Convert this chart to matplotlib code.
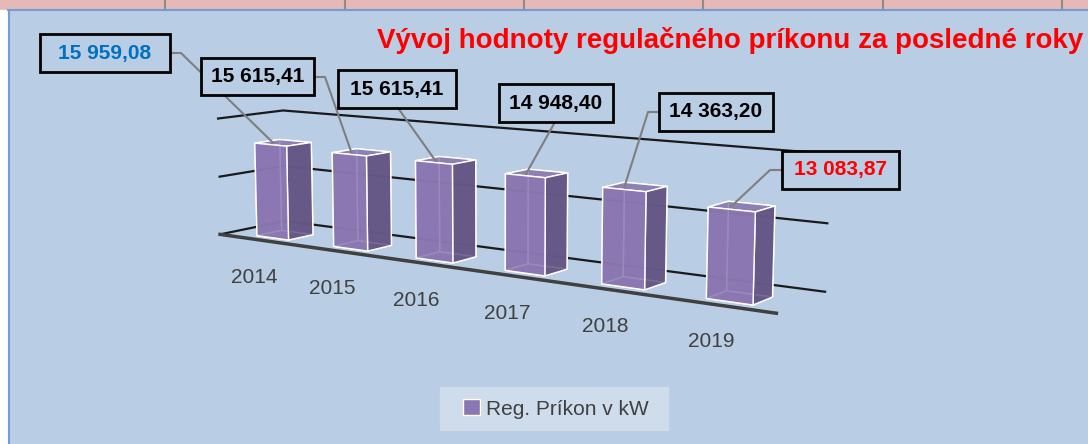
import matplotlib
matplotlib.use("Agg")
import matplotlib.pyplot as plt
import matplotlib.patches as mpatches
from matplotlib.lines import Line2D
from mpl_toolkits.mplot3d import proj3d

years = ["2014", "2015", "2016", "2017", "2018", "2019"]
values = [15959.08, 15615.41, 15615.41, 14948.40, 14363.20, 13083.87]
value_labels = ["15 959,08", "15 615,41", "15 615,41", "14 948,40", "14 363,20", "13 083,87"]
label_colors = ["#0070c0", "black", "black", "black", "black", "#ff0000"]
# label boxes in pixels from top-left: x0, x1, y0, y1
label_boxes = [(40, 170, 34, 72), (201, 314, 58, 95), (338, 456, 70, 108),
               (499, 613, 84, 122), (659, 773, 93, 131), (782, 899, 151, 189)]
# leader line: start point on box, then elbow point (pixels from top-left)
leader_start = [(170, 53), (314, 77), (398, 108), (555, 122), (659, 112), (782, 170)]
leader_elbow = [(181, 53), (325, 77), (398, 108), (555, 122), (648, 112), (770, 170)]

W, H = 1088, 444
bg = "#b9cde5"
plt.rcParams["grid.color"] = "#1a1a1a"
plt.rcParams["grid.linewidth"] = 1.6
font = ["Liberation Sans", "DejaVu Sans"]


def fpx(x, y):
    return x / W, 1 - y / H


fig = plt.figure(figsize=(W / 100, H / 100), dpi=100, facecolor=bg)

# spreadsheet strip + chart border
fig.add_artist(mpatches.Rectangle((0, 1 - 10 / H), 1, 10 / H, transform=fig.transFigure,
                                  color="#e6b8b7", zorder=0))
fig.add_artist(mpatches.Rectangle((0, 0), 8 / W, 1 - 10 / H, transform=fig.transFigure,
                                  color="white", zorder=0))
for cx in [165, 345, 524, 703, 883, 1062]:
    fig.add_artist(Line2D([cx / W] * 2, [1 - 9 / H, 1], transform=fig.transFigure,
                          color="#8c8c8c", lw=1.5))
fig.add_artist(Line2D([8 / W, 1], [1 - 10 / H] * 2, transform=fig.transFigure,
                      color="#6f9fd8", lw=1.5))
fig.add_artist(Line2D([8.5 / W] * 2, [0, 1 - 10 / H], transform=fig.transFigure,
                      color="#6f9fd8", lw=1.5))

side = 665
cx3, cy3 = 487, 207
ax = fig.add_axes([(cx3 - side / 2) / W, (H - cy3 - side / 2) / H, side / W, side / H],
                  projection="3d")
ax.set_facecolor((0, 0, 0, 0))
ax.patch.set_visible(False)

xs = list(range(len(years)))
dx, dy = 0.42, 0.45
face_cols = []
for _ in xs:
    # -Z, +Z, -Y, +Y, -X, +X
    face_cols += ["#8a76b0", "#8d80b3", "#8a76b0", "#8a76b0", "#8a76b0", "#5f5280"]
ax.bar3d(xs, [0] * len(xs), [0] * len(xs), dx, dy, values,
         color=face_cols, edgecolor="white", linewidth=1.0, alpha=0.85, shade=False)

ax.set_xlim(-0.35, 5.7)
ax.set_ylim(-0.2, 1.0)
ax.set_zlim(0, 20000)
ax.set_xticks([])
ax.set_yticks([])
ax.set_zticks([0, 10000, 20000])
ax.set_zticklabels([])
ax.tick_params(axis="z", colors=(0, 0, 0, 0))
for a in (ax.xaxis, ax.yaxis, ax.zaxis):
    a.set_pane_color((0, 0, 0, 0))
ax.yaxis.line.set_color((0, 0, 0, 0))
ax.zaxis.line.set_color((0, 0, 0, 0))
ax.xaxis.line.set_color("#404040")
ax.xaxis.line.set_linewidth(2.5)

ax.set_box_aspect((6, 0.95, 1.15), zoom=1.0)
ax.view_init(elev=9, azim=-55)
ax.set_proj_type("persp", focal_length=0.45)

fig.canvas.draw()
M = ax.get_proj()
to_fig = ax.transData + fig.transFigure.inverted()


def project(x, y, z):
    px, py, _ = proj3d.proj_transform(x, y, z, M)
    return to_fig.transform((px, py))


for i, x in enumerate(xs):
    # year label under the front bottom edge of each bar
    fx, fy = project(x + dx / 2, 0, 0)
    fig.text(fx - 18 / W, fy - 40 / H, years[i], ha="center", va="center",
             fontsize=15, color="#404040", family=font)

    x0, x1, y0, y1 = label_boxes[i]
    fx0, fy1 = fpx(x0, y1)
    fx1, fy0 = fpx(x1, y0)
    fig.add_artist(mpatches.Rectangle((fx0, fy1), fx1 - fx0, fy0 - fy1,
                                      transform=fig.transFigure, fc=bg,
                                      ec="black", lw=2, zorder=5))
    fig.text((fx0 + fx1) / 2, (fy0 + fy1) / 2, value_labels[i], ha="center",
             va="center", fontsize=15, fontweight="bold", color=label_colors[i],
             family=font, zorder=6)
    bx, by = project(x + dx * 0.35, dy * 0.3, values[i])
    sx, sy = fpx(*leader_start[i])
    ex, ey = fpx(*leader_elbow[i])
    fig.add_artist(Line2D([sx, ex, bx], [sy, ey, by], transform=fig.transFigure,
                          color="#7f7f7f", lw=1.5, zorder=4))

fig.text(1083 / W, 1 - 40 / H, "Vývoj hodnoty regulačného príkonu za posledné roky",
         ha="right", va="center", color="#ff0000", fontsize=20, fontweight="bold",
         family=font)

lx0, ly1 = fpx(440, 430)
lx1, ly0 = fpx(668, 387)
fig.add_artist(mpatches.Rectangle((lx0, ly1), lx1 - lx0, ly0 - ly1,
                                  transform=fig.transFigure, color="#cfdcec", zorder=1))
handle = mpatches.Patch(facecolor="#8a76b0", edgecolor="white", label="Reg. Príkon v kW")
fig.legend(handles=[handle], loc="center", bbox_to_anchor=fpx(556, 409),
           frameon=False, prop={"family": font, "size": 15}, labelcolor="#404040",
           handlelength=0.8, handleheight=0.8, handletextpad=0.3)

fig.savefig("out.png", dpi=100, facecolor=bg)
